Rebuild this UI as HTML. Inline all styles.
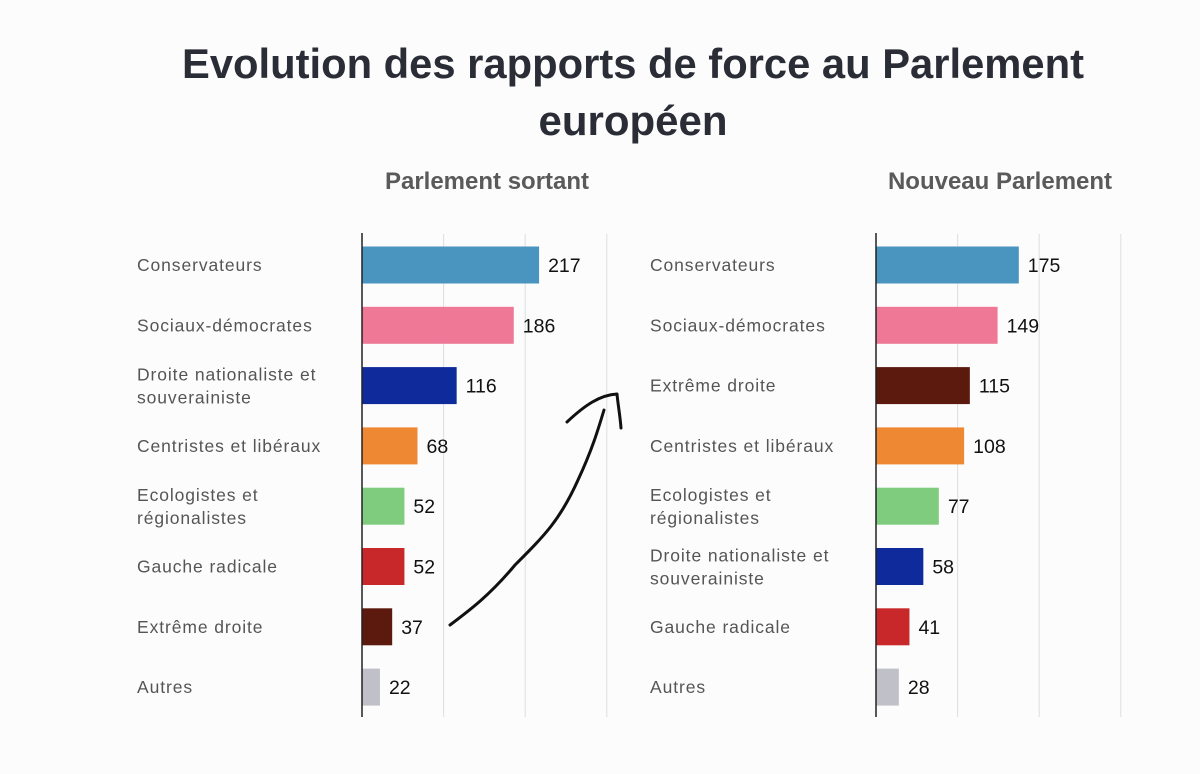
<!DOCTYPE html>
<html><head><meta charset="utf-8"><style>
body{margin:0;background:#fcfcfd;}
svg{display:block;}
</style></head><body>
<svg id="chart" width="1200" height="774" xmlns="http://www.w3.org/2000/svg">
<rect width="1200" height="774" fill="#fcfcfd"/>
<text x="633" y="78" text-anchor="middle" font-family="Liberation Sans, sans-serif" font-weight="bold" font-size="42" textLength="902" lengthAdjust="spacingAndGlyphs" fill="#2a2d36">Evolution des rapports de force au Parlement</text>
<text x="633" y="135" text-anchor="middle" font-family="Liberation Sans, sans-serif" font-weight="bold" font-size="42" fill="#2a2d36">européen</text>
<text x="487" y="189" text-anchor="middle" font-family="Liberation Sans, sans-serif" font-weight="bold" font-size="24" fill="#5a5a5a">Parlement sortant</text>
<text x="1000" y="189" text-anchor="middle" font-family="Liberation Sans, sans-serif" font-weight="bold" font-size="24" fill="#5a5a5a">Nouveau Parlement</text>
<g id="panels"></g>
<path d="M450,625 C470,610 490,595 515,565 C545,535 560,520 578,480 C592,450 598,430 604,410" fill="none" stroke="#111" stroke-width="3" stroke-linecap="round"/>
<path d="M567,422 C585,405 600,395 617,394 C618,405 620,415 621,428" fill="none" stroke="#111" stroke-width="3" stroke-linecap="round" stroke-linejoin="round"/>
</svg>
<script>
const leftCategories=[["Conservateurs"],["Sociaux-démocrates"],["Droite nationaliste et","souverainiste"],["Centristes et libéraux"],["Ecologistes et","régionalistes"],["Gauche radicale"],["Extrême droite"],["Autres"]];
const leftValues=[217,186,116,68,52,52,37,22];
const leftColors=["#4a94c0","#ef7896","#0f2a9a","#ee8833","#80cc7e","#c8282a","#5c1a0e","#c0c0c8"];
const rightCategories=[["Conservateurs"],["Sociaux-démocrates"],["Extrême droite"],["Centristes et libéraux"],["Ecologistes et","régionalistes"],["Droite nationaliste et","souverainiste"],["Gauche radicale"],["Autres"]];
const rightValues=[175,149,115,108,77,58,41,28];
const rightColors=["#4a94c0","#ef7896","#5c1a0e","#ee8833","#80cc7e","#0f2a9a","#c8282a","#c0c0c8"];
const gridTicks=[100,200,300];
const NS="http://www.w3.org/2000/svg";
const g=document.getElementById('panels');
function mk(t,a){const e=document.createElementNS(NS,t);for(const k in a)e.setAttribute(k,a[k]);g.appendChild(e);return e;}
function panel(axisX,labelX,cats,vals,cols,side){
  const sx=v=>axisX+v*0.816;
  const sy=i=>265+i*60.3;
  gridTicks.forEach(t=>{const l=mk('line',{x1:sx(t),x2:sx(t),y1:234,y2:717,stroke:'#dcdde3','stroke-width':1});
    
    });
  vals.forEach((v,i)=>{
    const r=mk('rect',{x:axisX,y:sy(i)-18.5,width:sx(v)-axisX,height:37,fill:cols[i]});
    
    
    const t=mk('text',{x:sx(v)+9,y:sy(i)+7,'font-family':'Liberation Sans, sans-serif','font-size':19.5,fill:'#111'});
    t.textContent=v;
    
    
    const lines=cats[i];
    lines.forEach((s,j)=>{
      const yy=lines.length===1?sy(i)+6:sy(i)-5+j*23;
      const c=mk('text',{x:labelX,y:yy,'font-family':'Liberation Sans, sans-serif','font-size':17.5,fill:'#555','letter-spacing':'0.9'});
      c.textContent=s;
      
      
    });
  });
  const ax=mk('line',{x1:axisX,x2:axisX,y1:233,y2:717,stroke:'#222','stroke-width':1.5});
  
  
}
panel(362,137,leftCategories,leftValues,leftColors,'left');
panel(876,650,rightCategories,rightValues,rightColors,'right');
</script>
</body></html>
